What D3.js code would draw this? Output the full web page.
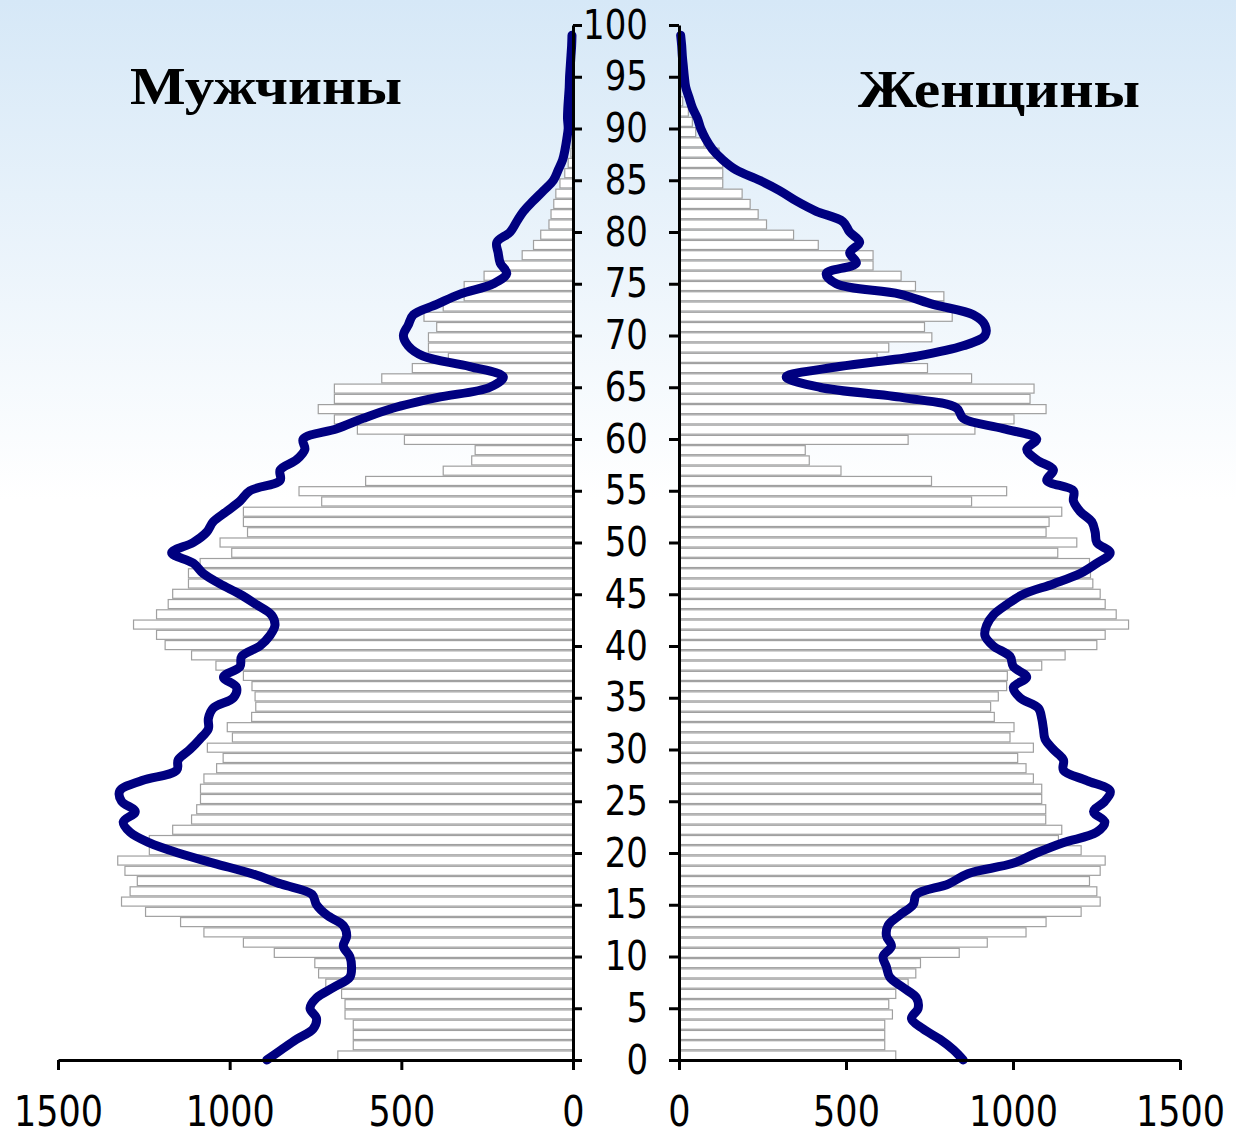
<!DOCTYPE html>
<html>
<head>
<meta charset="utf-8">
<script src="https://cdn.jsdelivr.net/npm/d3@7"></script>
<style>
  html, body { margin: 0; padding: 0; background: #ffffff; }
  svg { display: block; }
</style>
</head>
<body>
<svg id="chart" width="1236" height="1135"></svg>
<script>
// ---- data ----
const ages = d3.range(0, 101);
const maleBars = [685,640,640,640,664,664,674,720,741,752,
  870,960,1075,1143,1245,1315,1290,1269,1305,1326,
  1234,1234,1166,1111,1096,1085,1085,1075,1038,1019,
  1065,992,1007,936,924,926,935,960,1040,1111,
  1188,1213,1280,1213,1179,1166,1120,1120,1086,994,
  1028,948,960,960,732,798,604,378,295,285,
  491,628,695,742,695,695,557,468,363,421,
  421,397,434,378,317,317,259,200,148,115,
  94,70,64,56,50,38,24,14,6,3,
  2,1,0,0,0,0,0,0,0,0,0];
const femaleBars = [649,616,616,616,639,628,649,686,709,723,
  839,923,1039,1099,1204,1261,1251,1229,1261,1276,
  1204,1136,1146,1098,1098,1086,1086,1061,1039,1014,
  1061,991,1003,944,933,956,981,983,1086,1156,
  1251,1276,1346,1309,1276,1261,1239,1232,1229,1134,
  1191,1099,1108,1146,876,981,756,485,390,378,
  686,886,1003,1099,1051,1063,876,744,593,628,
  757,735,818,793,793,708,665,581,581,417,
  343,262,237,213,189,131,131,131,120,75,
  50,40,28,11,5,3,2,1,1,0,0];
const lineAges = d3.range(0, 100);
const maleLine = [892,849,805,757,747,766,747,698,650,645,
  650,669,659,669,717,747,760,850,935,1045,
  1150,1235,1290,1310,1275,1315,1320,1255,1154,1150,
  1116,1087,1062,1062,1048,989,980,1018,970,965,
  912,883,868,878,922,970,1028,1077,1106,1169,
  1106,1067,1048,1009,970,941,853,853,805,781,
  786,688,611,523,397,242,203,300,436,480,
  494,480,465,397,329,232,193,212,218,222,
  183,164,144,116,86,57,43,30,23,18,
  14,16,15,13,11,10,8,6,4,3];
const femaleLine = [851,821,781,731,696,716,711,671,631,621,
  611,636,621,626,661,701,711,806,865,1000,
  1070,1150,1250,1275,1241,1275,1291,1221,1151,1151,
  1121,1096,1091,1086,1076,1021,1001,1041,1001,991,
  941,916,921,941,981,1031,1121,1201,1251,1291,
  1251,1246,1236,1201,1181,1181,1101,1121,1071,1041,
  1071,971,851,831,671,421,321,480,711,851,
  916,916,881,761,661,471,441,531,511,541,
  511,491,411,351,301,241,171,130,100,80,
  65,55,40,30,20,16,13,10,8,5];
const xTicks = [0, 500, 1000, 1500];
const yTicks = d3.range(0, 101, 5);
const titleMale = "Мужчины";
const titleFemale = "Женщины";

// ---- layout ----
const svg = d3.select("#chart");
const defs = svg.append("defs");
const grad = defs.append("linearGradient").attr("id", "bg")
  .attr("x1", 0).attr("y1", 0).attr("x2", 0).attr("y2", 1);
grad.append("stop").attr("offset", "0").attr("stop-color", "#d6e8f7");
grad.append("stop").attr("offset", "0.44").attr("stop-color", "#ffffff");
grad.append("stop").attr("offset", "1").attr("stop-color", "#ffffff");
svg.append("rect").attr("width", 1236).attr("height", 1135).attr("fill", "url(#bg)");

const yTop = 25, yBot = 1060;
const y = d3.scaleLinear().domain([0, 100]).range([yBot, yTop]);
const yb = d3.scaleBand().domain(ages).range([yBot, yTop]).paddingInner(0.12).paddingOuter(0);
const xL = d3.scaleLinear().domain([0, 1500]).range([573, 58]);
const xR = d3.scaleLinear().domain([0, 1500]).range([679, 1180]);

// bars
const barStyle = sel => sel.attr("fill", "#ffffff").attr("stroke", "#a0a0a0").attr("stroke-width", 1.2);
svg.append("g").selectAll("rect").data(ages).join("rect")
  .attr("x", a => xL(maleBars[a]))
  .attr("width", a => xL(0) - xL(maleBars[a]))
  .attr("y", a => yb(a))
  .attr("height", yb.bandwidth())
  .call(barStyle);
svg.append("g").selectAll("rect").data(ages).join("rect")
  .attr("x", xR(0))
  .attr("width", a => xR(femaleBars[a]) - xR(0))
  .attr("y", a => yb(a))
  .attr("height", yb.bandwidth())
  .call(barStyle);

// lines
const lineStyle = sel => sel.attr("fill", "none").attr("stroke", "#000080")
  .attr("stroke-width", 9).attr("stroke-linejoin", "round").attr("stroke-linecap", "round");
svg.append("path").datum(lineAges)
  .attr("d", d3.line().x(a => xL(maleLine[a])).y(a => y(a)).curve(d3.curveCatmullRom.alpha(0.5)))
  .call(lineStyle);
svg.append("path").datum(lineAges)
  .attr("d", d3.line().x(a => xR(femaleLine[a])).y(a => y(a)).curve(d3.curveCatmullRom.alpha(0.5)))
  .call(lineStyle);

// axes
const font = "'DejaVu Sans', Verdana, sans-serif";
function styleAxis(g, size) {
  g.selectAll(".domain").attr("stroke", "#000").attr("stroke-width", 3);
  g.selectAll(".tick line").attr("stroke", "#000").attr("stroke-width", 3);
  g.selectAll(".tick text").attr("fill", "#000").style("font-family", font).style("font-size", size + "px");
}
svg.append("g").attr("transform", `translate(${xL(0)},0)`)
  .call(d3.axisRight(y).tickValues(yTicks).tickSize(9).tickSizeOuter(0).tickFormat(""))
  .call(g => styleAxis(g, 34));
svg.append("g").attr("transform", `translate(${xR(0)},0)`)
  .call(d3.axisLeft(y).tickValues(yTicks).tickSize(10).tickSizeOuter(0).tickPadding(21).tickFormat(d3.format("d")))
  .call(g => styleAxis(g, 34))
  .call(g => g.selectAll(".tick text").attr("transform", "scale(1,1.2)"));
function bottomAxis(scale) {
  svg.append("g").attr("transform", `translate(0,${yBot})`)
    .call(d3.axisBottom(scale).tickValues(xTicks).tickSize(10).tickSizeOuter(0).tickFormat(d3.format("d")))
    .call(g => styleAxis(g, 35))
    .call(g => g.selectAll(".tick text").attr("y", 0).attr("dy", "0.71em")
      .attr("transform", "translate(0,36) scale(1,1.22)"));
}
bottomAxis(xL);
bottomAxis(xR);

// titles
const titleFont = "'Liberation Serif', 'Times New Roman', serif";
svg.append("text").attr("x", 130).attr("y", 104).text(titleMale)
  .attr("textLength", 272).attr("lengthAdjust", "spacingAndGlyphs")
  .style("font-family", titleFont).style("font-weight", "bold").style("font-size", "53px").attr("fill", "#000");
svg.append("text").attr("x", 858).attr("y", 107).text(titleFemale)
  .attr("textLength", 282).attr("lengthAdjust", "spacingAndGlyphs")
  .style("font-family", titleFont).style("font-weight", "bold").style("font-size", "53px").attr("fill", "#000");
</script>
</body>
</html>
